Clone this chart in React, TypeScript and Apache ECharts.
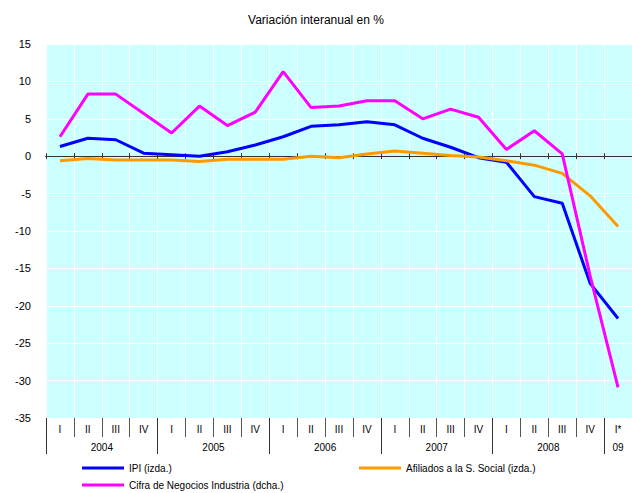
import React, { useEffect, useRef } from "react";
import * as echarts from "echarts";

const quarters = ["I","II","III","IV","I","II","III","IV","I","II","III","IV","I","II","III","IV","I","II","III","IV","I*"];
const years = ["2004","2005","2006","2007","2008","09"];
const ipi = [1.3,2.4,2.2,0.4, 0.2,0.0,0.6,1.5, 2.6,4.0,4.2,4.6, 4.2,2.4,1.2,-0.2, -0.8,-5.4,-6.3,-17.0, -21.7];
const afiliados = [-0.6,-0.3,-0.5,-0.5, -0.5,-0.7,-0.4,-0.4, -0.4,0.0,-0.2,0.3, 0.7,0.4,0.1,-0.1, -0.6,-1.2,-2.3,-5.3, -9.4];
const cifra = [2.6,8.3,8.3,5.7, 3.1,6.7,4.1,5.9, 11.3,6.5,6.7,7.4, 7.4,5.0,6.3,5.2, 0.9,3.4,0.3,-16.0, -30.9];
const seriesNames = ["IPI (izda.)", "Afiliados a la S. Social (izda.)", "Cifra de Negocios Industria (dcha.)"];
const yMin = -35, yMax = 15, yStep = 5;

const FONT = "Liberation Sans, Arial, sans-serif";

export default function App() {
  const ref = useRef<HTMLDivElement>(null);
  useEffect(() => {
    if (!ref.current) return;
    const chart = echarts.init(ref.current, undefined, { renderer: "svg" });
    const legendBase = {
      itemWidth: 42, itemHeight: 3, icon: "rect", padding: 0,
      textStyle: { fontSize: 10, color: "#000", fontFamily: FONT },
    };
    chart.setOption({
      animation: false,
      backgroundColor: "#fff",
      title: {
        text: "Variación interanual en %", left: "center", top: 9,
        textStyle: { fontSize: 12, fontWeight: "normal", color: "#000", fontFamily: FONT },
      },
      legend: [
        { ...legendBase, data: [seriesNames[0]], left: 82, top: 463 },
        { ...legendBase, data: [seriesNames[1]], left: 359, top: 463 },
        { ...legendBase, data: [seriesNames[2]], left: 82, top: 480 },
      ],
      grid: { left: 46, right: 0, top: 44, bottom: 75, show: true, backgroundColor: "#CCFFFF", borderWidth: 0 },
      xAxis: [
        {
          type: "category", data: quarters, boundaryGap: true, position: "bottom",
          axisLine: { show: true, onZero: true, onZeroAxisIndex: 0, lineStyle: { color: "#333", width: 1 } },
          axisTick: { show: true, length: 3, inside: false, interval: 0, lineStyle: { color: "#333" } },
          axisLabel: { show: false },
          splitLine: { show: true, interval: 0, lineStyle: { color: "#fff", width: 1 } },
        },
        {
          type: "category", data: quarters, boundaryGap: true, position: "bottom",
          axisLine: { show: true, onZero: true, onZeroAxisIndex: 1, lineStyle: { color: "#333", width: 1 } },
          axisTick: { show: true, length: 3, inside: true, interval: 0, lineStyle: { color: "#333" } },
          axisLabel: { show: false },
          splitLine: { show: false },
        },
        {
          type: "category", data: quarters, boundaryGap: true, position: "bottom",
          axisLine: { show: false, onZero: false },
          axisTick: { show: true, length: 19, interval: 0, lineStyle: { color: "#555" } },
          axisLabel: { show: true, interval: 0, margin: 6, fontSize: 10, color: "#000", fontFamily: FONT },
          splitLine: { show: false },
        },
        {
          type: "category", data: quarters, boundaryGap: true, position: "bottom",
          axisLine: { show: false, onZero: false },
          axisTick: { show: true, length: 36, interval: (i: number) => i % 4 === 0, lineStyle: { color: "#333" } },
          axisLabel: {
            show: true, interval: 0, margin: 24, fontSize: 10, color: "#000", fontFamily: FONT,
            formatter: (_v: string, i: number) => {
              if (i === 20) return `{z|${years[5]}}`;
              if (i % 4 === 1) return `{y|${years[Math.floor(i / 4)]}}`;
              return "";
            },
            rich: {
              y: { padding: [0, 0, 0, 28], fontSize: 10, color: "#000", fontFamily: FONT },
              z: { fontSize: 10, color: "#000", fontFamily: FONT },
            },
          },
          splitLine: { show: false },
        },
      ],
      yAxis: [
        {
          type: "value", min: yMin, max: yMax, interval: yStep, position: "left",
          axisLine: { show: false }, axisTick: { show: false },
          axisLabel: { margin: 15, fontSize: 11, color: "#000", fontFamily: FONT },
          splitLine: { show: true, lineStyle: { color: "#fff", width: 1 } },
        },
        {
          type: "value", min: yMin, max: yMax, interval: yStep, position: "right", show: false,
          splitLine: { show: false },
        },
      ],
      series: [
        { name: seriesNames[0], type: "line", data: ipi, xAxisIndex: 0, yAxisIndex: 0, showSymbol: false, symbol: "none",
          lineStyle: { color: "#0000FF", width: 3 }, itemStyle: { color: "#0000FF" } },
        { name: seriesNames[1], type: "line", data: afiliados, xAxisIndex: 0, yAxisIndex: 0, showSymbol: false, symbol: "none",
          lineStyle: { color: "#FF9900", width: 3 }, itemStyle: { color: "#FF9900" } },
        { name: seriesNames[2], type: "line", data: cifra, xAxisIndex: 0, yAxisIndex: 1, showSymbol: false, symbol: "none",
          lineStyle: { color: "#FF00FF", width: 3 }, itemStyle: { color: "#FF00FF" } },
      ],
    });
    return () => chart.dispose();
  }, []);
  return <div ref={ref} style={{ position: "fixed", left: 0, top: 0, width: 632, height: 493 }} />;
}
